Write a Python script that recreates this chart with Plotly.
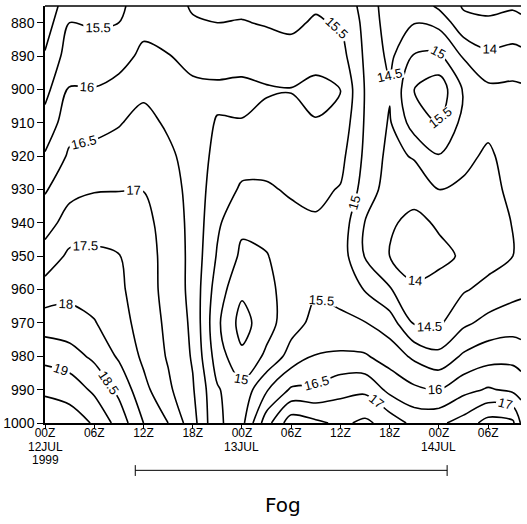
import numpy as np
import plotly.graph_objects as go

# Pressure levels (hPa) and hours since 00Z 12 JUL 1999
pressure = [875, 880, 890, 900, 910, 920, 930, 940, 950, 960, 970, 980, 990, 1000]
hours = [0, 3, 6, 9, 12, 15, 18, 21, 24, 27, 30, 33, 36, 39, 42, 45, 48, 51, 54, 57, 58]

# Values per time column, top (875 hPa) to bottom (1000 hPa)
t00 = [14.6, 14.75, 15.05, 15.35, 15.68, 16.05, 16.45, 16.8, 17.2, 17.7, 18.25, 18.85, 19.4, 19.9]
t03 = [15.35, 15.5, 15.75, 16.04, 16.3, 16.58, 16.86, 17.2, 17.6, 17.85, 18.2, 18.7, 19.3, 19.75]
t06 = [15.3, 15.45, 15.73, 16.02, 16.33, 16.66, 16.97, 17.28, 17.6, 17.78, 18.03, 18.4, 18.9, 19.45]
t09 = [15.4, 15.5, 15.83, 16.15, 16.47, 16.7, 16.98, 17.3, 17.52, 17.6, 17.72, 17.93, 18.38, 18.8]
t12 = [15.75, 15.87, 16.1, 16.4, 16.65, 16.8, 16.99, 17.15, 17.2, 17.22, 17.28, 17.4, 17.65, 18.0]
t15 = [15.7, 15.8, 16.02, 16.25, 16.43, 16.6, 16.7, 16.8, 16.85, 16.85, 16.9, 16.95, 17.1, 17.5]
t18 = [15.45, 15.55, 15.85, 16.1, 16.2, 16.3, 16.35, 16.35, 16.35, 16.35, 16.4, 16.45, 16.55, 16.7]
t21 = [15.4, 15.5, 15.75, 16.1, 15.97, 15.85, 15.7, 15.58, 15.45, 15.25, 15.1, 15.25, 15.55, 15.55]
t24 = [15.42, 15.52, 15.8, 16.12, 15.98, 15.65, 15.45, 15.1, 14.9, 14.6, 14.3, 14.6, 15.15, 15.35]
t27 = [15.35, 15.47, 15.7, 16.05, 15.85, 15.65, 15.45, 15.2, 14.97, 14.85, 14.8, 15.1, 15.95, 16.8]
t30 = [15.3, 15.42, 15.65, 16.02, 15.85, 15.7, 15.55, 15.38, 15.3, 15.25, 15.3, 15.7, 16.57, 17.8]
t33 = [15.45, 15.55, 15.8, 16.15, 15.97, 15.75, 15.6, 15.45, 15.35, 15.45, 15.65, 16.03, 16.6, 17.6]
t36 = [15.3, 15.45, 15.7, 16.02, 15.85, 15.65, 15.47, 15.3, 15.25, 15.35, 15.6, 16.08, 16.85, 17.4]
t39 = [14.85, 14.88, 14.92, 14.97, 14.95, 14.9, 14.8, 14.48, 14.47, 14.97, 15.52, 16.05, 16.9, 17.6]
t42 = [14.2, 14.25, 14.38, 14.55, 14.45, 14.35, 14.25, 14.05, 14.0, 14.55, 15.25, 15.78, 16.36, 17.3]
t45 = [14.35, 14.48, 15.05, 15.5, 15.25, 14.55, 14.15, 13.9, 13.85, 14.05, 14.45, 15.4, 16.1, 16.85]
t48 = [13.9, 14.35, 15.1, 15.8, 15.52, 14.97, 14.5, 14.05, 13.9, 14.15, 14.42, 15.15, 16.0, 16.9]
t51 = [13.45, 13.65, 14.45, 14.95, 14.85, 14.65, 14.4, 14.2, 14.05, 14.45, 14.9, 15.58, 16.35, 17.2]
t54 = [13.35, 13.6, 14.1, 14.6, 14.65, 14.4, 14.3, 14.25, 14.3, 14.65, 15.15, 15.8, 16.55, 17.7]
t57 = [13.45, 13.65, 14.2, 14.6, 14.7, 14.75, 14.65, 14.52, 14.5, 14.85, 15.25, 15.85, 16.4, 17.6]
t58 = [13.4, 13.6, 14.15, 14.58, 14.7, 14.75, 14.7, 14.6, 14.65, 14.9, 15.25, 15.75, 16.3, 16.95]

columns = [t00, t03, t06, t09, t12, t15, t18, t21, t24, t27, t30, t33, t36, t39,
           t42, t45, t48, t51, t54, t57, t58]

tick_hours = [0, 6, 12, 18, 24, 30, 36, 42, 48, 54]
tick_text = ["00Z", "06Z", "12Z", "18Z", "00Z", "06Z", "12Z", "18Z", "00Z", "06Z"]
date_labels = [(0, "12JUL"), (24, "13JUL"), (48, "14JUL")]
year_label = (0, "1999")
p_ticks = [880, 890, 900, 910, 920, 930, 940, 950, 960, 970, 980, 990, 1000]

fog_start, fog_end = 11, 49
fog_label = "Fog"

z = np.array(columns).T

FONT = "Liberation Sans Narrow, Liberation Sans, Arial, sans-serif"

fig = go.Figure()
fig.add_trace(go.Contour(
    x=hours, y=pressure, z=z,
    contours=dict(start=13.5, end=20.0, size=0.5, coloring="lines",
                  showlabels=True,
                  labelfont=dict(family=FONT, size=13, color="black")),
    colorscale=[[0, "black"], [1, "black"]],
    showscale=False,
    line=dict(width=1.6, smoothing=0.9),
    hoverinfo="skip",
))

fig.update_layout(
    width=527, height=524,
    margin=dict(l=45, r=6, t=6, b=101),
    plot_bgcolor="white", paper_bgcolor="white",
    showlegend=False,
    font=dict(family=FONT, color="black"),
)
fig.update_xaxes(range=[0, 58], tickvals=tick_hours, ticktext=tick_text,
                 ticks="outside", ticklen=4, tickcolor="black",
                 showline=True, linecolor="black", linewidth=1.5,
                 showgrid=False, zeroline=False, automargin=False,
                 ticklabelstandoff=-6,
                 tickfont=dict(family=FONT, size=12, color="black"))
fig.update_yaxes(range=[1000, 875], tickvals=p_ticks,
                 ticks="outside", ticklen=6, tickcolor="black",
                 showline=True, linecolor="black", linewidth=1.5,
                 showgrid=False, zeroline=False, automargin=False,
                 tickfont=dict(family=FONT, size=14, color="black"))

# top border of the plot frame
fig.add_shape(type="line", xref="paper", yref="paper", x0=0, x1=1, y0=1, y1=1,
              line=dict(color="black", width=1.5))

for hx, txt in date_labels:
    fig.add_annotation(x=hx, y=-0.058, xref="x", yref="paper", text=txt,
                       showarrow=False, yanchor="middle", borderpad=0,
                       font=dict(family=FONT, size=12, color="black"))
fig.add_annotation(x=year_label[0], y=-0.088, xref="x", yref="paper",
                   text=year_label[1], showarrow=False, yanchor="middle", borderpad=0,
                   font=dict(family=FONT, size=12, color="black"))

# Fog period bar
fig.add_shape(type="line", xref="x", yref="paper", x0=fog_start, x1=fog_end,
              y0=-0.1135, y1=-0.1135, line=dict(color="black", width=1))
for xe in (fog_start, fog_end):
    fig.add_shape(type="line", xref="x", yref="paper", x0=xe, x1=xe,
                  y0=-0.101, y1=-0.127, line=dict(color="black", width=1))
fig.add_annotation(x=(fog_start + fog_end) / 2 - 1, y=-0.197, xref="x", yref="paper",
                   text=fog_label, showarrow=False, yanchor="middle",
                   font=dict(family="DejaVu Sans, sans-serif", size=20, color="black"))

fig.write_html("out.html", config={"displayModeBar": False},
               post_script="document.body.style.margin='0';")
